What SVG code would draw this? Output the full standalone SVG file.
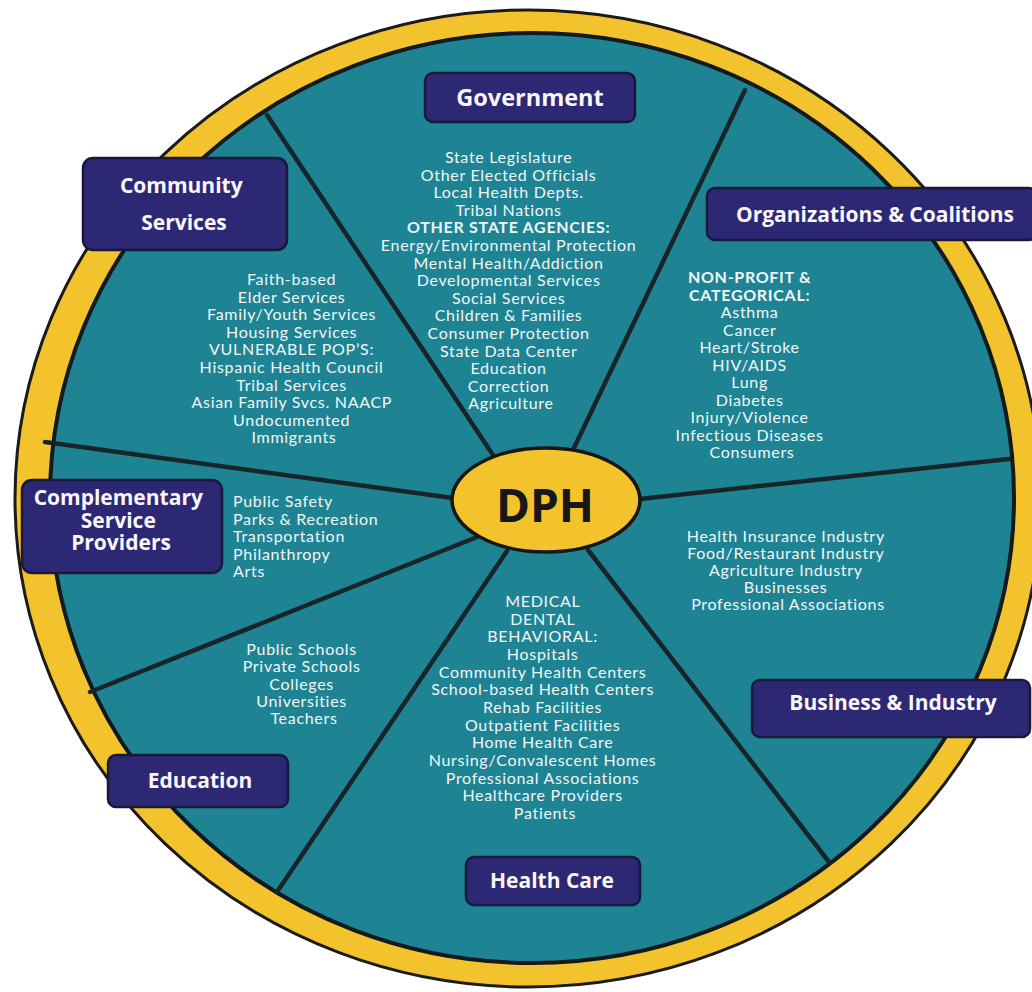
<svg xmlns="http://www.w3.org/2000/svg" width="1032" height="992" viewBox="0 0 1032 992">
  <style>
    .ring { fill: #F3C32D; stroke: #1b1b1b; stroke-width: 3; }
    .field { fill: #1E8494; stroke: #121a1e; stroke-width: 4; }
    .spoke { stroke: #172429; stroke-width: 4.5; stroke-linecap: round; fill: none; }
    .hub { fill: #F3C32D; stroke: #161616; stroke-width: 3.5; }
    .hubtxt { font-family: "Open Sans", "Liberation Sans", sans-serif; font-weight: 700; font-size: 46px; fill: #171717; text-anchor: middle; }
    .box { fill: #2D2874; stroke: #1a1838; stroke-width: 2.5; }
    .head { font-family: "Open Sans", "Liberation Sans", sans-serif; font-weight: 700; font-size: 21px; fill: #FAF6FC; text-anchor: middle; }
    .list { font-family: Lato, "Liberation Sans", sans-serif; font-size: 16px; letter-spacing: 0.7px; fill: #F2F6F8; text-anchor: middle; }
    .left { text-anchor: start; }
    .b { font-weight: 700; }
  </style>

  <rect width="1032" height="992" fill="#FFFFFF"/>

  <!-- outer ring and field -->
  <ellipse class="ring" cx="528" cy="498.5" rx="513" ry="488.5"/>
  <ellipse class="field" cx="532" cy="498" rx="482" ry="465"/>

  <!-- spokes from the hub to the rim -->
  <g id="connectors">
    <line class="spoke" x1="493" y1="455" x2="267" y2="115"/>
    <line class="spoke" x1="573" y1="450" x2="745" y2="90"/>
    <line class="spoke" x1="640" y1="499" x2="1009" y2="459"/>
    <line class="spoke" x1="453" y1="498" x2="45" y2="442"/>
    <line class="spoke" x1="477" y1="537" x2="90" y2="692"/>
    <line class="spoke" x1="507" y1="551" x2="277" y2="892"/>
    <line class="spoke" x1="588" y1="550" x2="829" y2="862"/>
  </g>

  <!-- hub -->
  <g id="dph">
    <ellipse class="hub" cx="546" cy="500" rx="94" ry="52"/>
    <text class="hubtxt" x="545" y="522">DPH</text>
  </g>

  <!-- Government -->
  <g id="government">
    <rect class="box" x="425" y="73" width="210" height="49" rx="8"/>
    <text class="head" x="530" y="106" style="font-size:23.5px">Government</text>
    <text class="list" x="511" y="163">
      <tspan x="511" dy="0">State Legislature</tspan>
      <tspan x="511" dy="17.6">Other Elected Officials</tspan>
      <tspan x="511" dy="17.6">Local Health Depts.</tspan>
      <tspan x="511" dy="17.6">Tribal Nations</tspan>
      <tspan x="511" dy="17.6" class="b">OTHER STATE AGENCIES:</tspan>
      <tspan x="511" dy="17.6">Energy/Environmental Protection</tspan>
      <tspan x="511" dy="17.6">Mental Health/Addiction</tspan>
      <tspan x="511" dy="17.6">Developmental Services</tspan>
      <tspan x="511" dy="17.6">Social Services</tspan>
      <tspan x="511" dy="17.6">Children &amp; Families</tspan>
      <tspan x="511" dy="17.6">Consumer Protection</tspan>
      <tspan x="511" dy="17.6">State Data Center</tspan>
      <tspan x="511" dy="17.6">Education</tspan>
      <tspan x="511" dy="17.6">Correction</tspan>
      <tspan x="511" dy="17.6">Agriculture</tspan>
    </text>
  </g>

  <!-- Community Services -->
  <g id="community-services">
    <rect class="box" x="83" y="158" width="204" height="92" rx="10"/>
    <text class="head" x="184" y="193">
      <tspan x="184" dy="0">Community</tspan>
      <tspan x="184" dy="37">Services</tspan>
    </text>
    <text class="list" x="294" y="285">
      <tspan x="294" dy="0">Faith-based</tspan>
      <tspan x="294" dy="17.6">Elder Services</tspan>
      <tspan x="294" dy="17.6">Family/Youth Services</tspan>
      <tspan x="294" dy="17.6">Housing Services</tspan>
      <tspan x="294" dy="17.6">VULNERABLE POP’S:</tspan>
      <tspan x="294" dy="17.6">Hispanic Health Council</tspan>
      <tspan x="294" dy="17.6">Tribal Services</tspan>
      <tspan x="294" dy="17.6">Asian Family Svcs. NAACP</tspan>
      <tspan x="294" dy="17.6">Undocumented</tspan>
      <tspan x="294" dy="17.6">Immigrants</tspan>
    </text>
  </g>

  <!-- Organizations & Coalitions -->
  <g id="organizations">
    <rect class="box" x="707" y="188" width="330" height="52" rx="8"/>
    <text class="head" x="875" y="222">Organizations &amp; Coalitions</text>
    <text class="list" x="752" y="283">
      <tspan x="752" dy="0" class="b">NON-PROFIT &amp;</tspan>
      <tspan x="752" dy="17.5" class="b">CATEGORICAL:</tspan>
      <tspan x="752" dy="17.5">Asthma</tspan>
      <tspan x="752" dy="17.5">Cancer</tspan>
      <tspan x="752" dy="17.5">Heart/Stroke</tspan>
      <tspan x="752" dy="17.5">HIV/AIDS</tspan>
      <tspan x="752" dy="17.5">Lung</tspan>
      <tspan x="752" dy="17.5">Diabetes</tspan>
      <tspan x="752" dy="17.5">Injury/Violence</tspan>
      <tspan x="752" dy="17.5">Infectious Diseases</tspan>
      <tspan x="752" dy="17.5">Consumers</tspan>
    </text>
  </g>

  <!-- Complementary Service Providers -->
  <g id="complementary">
    <rect class="box" x="22" y="480" width="200" height="93" rx="10"/>
    <text class="head" x="121" y="505">
      <tspan x="121" dy="0">Complementary</tspan>
      <tspan x="121" dy="22.5">Service</tspan>
      <tspan x="121" dy="22.5">Providers</tspan>
    </text>
    <text class="list left" x="233" y="507">
      <tspan x="233" dy="0">Public Safety</tspan>
      <tspan x="233" dy="17.5">Parks &amp; Recreation</tspan>
      <tspan x="233" dy="17.5">Transportation</tspan>
      <tspan x="233" dy="17.5">Philanthropy</tspan>
      <tspan x="233" dy="17.5">Arts</tspan>
    </text>
  </g>

  <!-- Business & Industry -->
  <g id="business">
    <rect class="box" x="752" y="680" width="278" height="57" rx="8"/>
    <text class="head" x="893" y="710">Business &amp; Industry</text>
    <text class="list" x="788" y="542">
      <tspan x="788" dy="0">Health Insurance Industry</tspan>
      <tspan x="788" dy="17">Food/Restaurant Industry</tspan>
      <tspan x="788" dy="17">Agriculture Industry</tspan>
      <tspan x="788" dy="17">Businesses</tspan>
      <tspan x="788" dy="17">Professional Associations</tspan>
    </text>
  </g>

  <!-- Education -->
  <g id="education">
    <rect class="box" x="108" y="755" width="180" height="52" rx="8"/>
    <text class="head" x="200" y="788">Education</text>
    <text class="list" x="304" y="655">
      <tspan x="304" dy="0">Public Schools</tspan>
      <tspan x="304" dy="17.25">Private Schools</tspan>
      <tspan x="304" dy="17.25">Colleges</tspan>
      <tspan x="304" dy="17.25">Universities</tspan>
      <tspan x="304" dy="17.25">Teachers</tspan>
    </text>
  </g>

  <!-- Health Care -->
  <g id="health-care">
    <rect class="box" x="466" y="857" width="174" height="48" rx="8"/>
    <text class="head" x="552" y="888">Health Care</text>
    <text class="list" x="545" y="607">
      <tspan x="545" dy="0">MEDICAL</tspan>
      <tspan x="545" dy="17.67">DENTAL</tspan>
      <tspan x="545" dy="17.67">BEHAVIORAL:</tspan>
      <tspan x="545" dy="17.67">Hospitals</tspan>
      <tspan x="545" dy="17.67">Community Health Centers</tspan>
      <tspan x="545" dy="17.67">School-based Health Centers</tspan>
      <tspan x="545" dy="17.67">Rehab Facilities</tspan>
      <tspan x="545" dy="17.67">Outpatient Facilities</tspan>
      <tspan x="545" dy="17.67">Home Health Care</tspan>
      <tspan x="545" dy="17.67">Nursing/Convalescent Homes</tspan>
      <tspan x="545" dy="17.67">Professional Associations</tspan>
      <tspan x="545" dy="17.67">Healthcare Providers</tspan>
      <tspan x="545" dy="17.67">Patients</tspan>
    </text>
  </g>
</svg>
